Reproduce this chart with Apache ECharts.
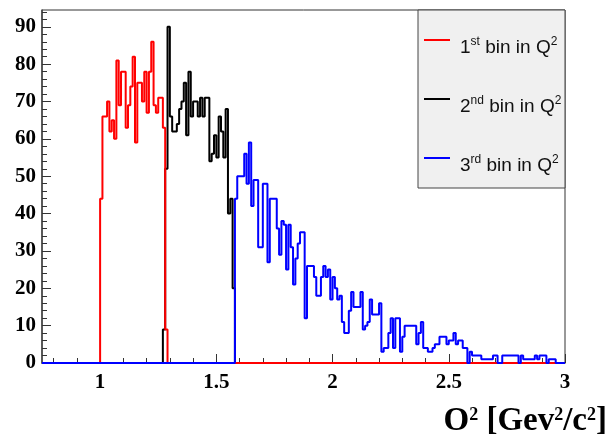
<!DOCTYPE html>
<html><head><meta charset="utf-8">
<script src="https://cdn.jsdelivr.net/npm/echarts@6/dist/echarts.min.js"></script>
<style>html,body{margin:0;padding:0;background:#fff}#c{width:611px;height:435px}</style>
</head><body><div id="c"></div>
<script>
// ---- data ----
const xMin = 0.75, xMax = 3.0, binWidth = 0.01;
const yMin = 0, yMax = 94.5;
const xTickLabels = [1, 1.5, 2, 2.5, 3];
const yTickLabels = [0, 10, 20, 30, 40, 50, 60, 70, 80, 90];
const seriesNames = ['1st bin in Q2', '2nd bin in Q2', '3rd bin in Q2'];

const redStart = 1.00;
const redCounts = [44, 66, 66, 70, 62, 65, 60, 81, 69, 78, 78, 63, 69, 74, 82, 59, 75, 75, 70, 78, 67, 78, 86, 69, 67, 71, 71, 63, 9];

const blackStart = 1.27;
const blackCounts = [9, 52, 90, 66, 62, 62, 64, 68, 70, 75, 61, 78, 66, 70, 70, 66, 71, 66, 71, 71, 54, 56, 61, 55, 66, 62, 55, 68, 40, 44, 20];

const blueStart = 1.58;
const blueCounts = [44, 50, 50, 50, 56, 48, 59, 42, 49, 49, 31, 31, 48, 48, 27, 44, 44, 44, 36, 29,
  38, 37, 25, 37, 31, 21, 28, 32, 35, 35, 12, 26, 26, 26, 23, 18, 18, 23, 26, 23,
  25, 17, 23, 20, 17, 18, 11, 8, 8, 14, 19, 15, 15, 15, 19, 9, 10, 11, 17, 13,
  13, 13, 16, 3, 4, 4, 8, 12, 4, 12, 12, 3, 7, 10, 10, 10, 10, 10, 5, 8,
  11, 4, 4, 3, 3, 4, 5, 5, 7, 7, 7, 5, 6, 6, 8, 5, 6, 6, 4, 4,
  0, 3, 2, 2, 2, 2, 1, 1, 1, 1, 1, 2, 2, 0, 0, 2, 2, 2, 2, 2,
  2, 2, 0, 2, 1, 1, 1, 1, 1, 2, 1, 2, 2, 2, 0, 1, 1, 1, 0, 0,
  0, 0];

// ---- helpers ----
function buildHist(start, counts) {
  const nBins = Math.round((xMax - xMin) / binWidth);
  const first = Math.round((start - xMin) / binWidth);
  const pts = [];
  for (let i = 0; i < nBins; i++) {
    const k = i - first;
    const v = (k >= 0 && k < counts.length) ? counts[k] : 0;
    pts.push([+(xMin + i * binWidth).toFixed(2), v]);
  }
  pts.push([xMax, pts[pts.length - 1][1]]);
  return pts;
}
const xMinor = [];
for (let i = 8; i <= 30; i++) { if (i % 5 !== 0) xMinor.push(i / 10); }
const yMinor = [];
for (let v = 2; v < yMax; v += 2) { if (v % 10 !== 0) yMinor.push(v); }

const legendRich = {
  '1st bin in Q2': '{n|1}{s|st}{n| bin in Q}{s|2}',
  '2nd bin in Q2': '{n|2}{s|nd}{n| bin in Q}{s|2}',
  '3rd bin in Q2': '{n|3}{s|rd}{n| bin in Q}{s|2}'
};

const serifBold = { fontFamily: 'Liberation Serif', fontWeight: 'bold', color: '#000' };

const chart = echarts.init(document.getElementById('c'), null, { renderer: 'canvas' });
chart.setOption({
  animation: false,
  backgroundColor: '#fff',
  grid: { left: 42, right: 46, top: 10, bottom: 72, outerBoundsMode: 'none', containLabel: false,
          show: true, borderColor: '#333', borderWidth: 1, backgroundColor: 'transparent' },
  graphic: [{
    type: 'rect', z: 3,
    shape: { x: 418, y: 10, width: 147, height: 178 },
    style: { fill: '#f0f0f0', stroke: '#444', lineWidth: 1 }
  }],
  legend: {
    orient: 'vertical', left: 424, top: 36, padding: 0, itemGap: 38,
    icon: 'rect', itemWidth: 26, itemHeight: 2,
    data: [seriesNames[0], seriesNames[1], seriesNames[2]],
    formatter: n => legendRich[n],
    textStyle: {
      padding: [14, 0, 0, 5],
      rich: {
        n: { fontFamily: 'Liberation Sans', fontSize: 19, color: '#111', lineHeight: 20, verticalAlign: 'bottom' },
        s: { fontFamily: 'Liberation Sans', fontSize: 12, color: '#111', lineHeight: 12, verticalAlign: 'bottom', padding: [0, 0, 9, 0] }
      }
    }
  },
  xAxis: [{
    type: 'value', min: xMin, max: xMax, position: 'bottom',
    axisLine: { show: true, onZero: false, lineStyle: { color: '#333', width: 1 } },
    axisTick: { show: true, inside: true, length: 9, customValues: xTickLabels, lineStyle: { color: '#333' } },
    axisLabel: { customValues: xTickLabels, margin: 9, fontSize: 21, ...serifBold, formatter: v => String(v) },
    splitLine: { show: false },
    name: '{b|O}{s|2}{b| [Gev}{s|2}{b|/c}{s|2}{b|]}',
    nameLocation: 'end', nameGap: 42,
    nameTextStyle: {
      align: 'right', verticalAlign: 'top', padding: [45, 0, 0, 0],
      rich: {
        b: { ...serifBold, fontSize: 33, lineHeight: 30, verticalAlign: 'bottom' },
        s: { ...serifBold, fontSize: 18, lineHeight: 18, verticalAlign: 'bottom', padding: [0, 0, 14, 0] }
      }
    }
  }, {
    type: 'value', min: xMin, max: xMax, position: 'bottom', offset: 0,
    axisLine: { show: false },
    axisTick: { show: true, inside: true, length: 5, customValues: xMinor, lineStyle: { color: '#333' } },
    axisLabel: { show: false },
    splitLine: { show: false }
  }],
  yAxis: [{
    type: 'value', min: yMin, max: yMax, position: 'left',
    axisLine: { show: true, onZero: false, lineStyle: { color: '#444', width: 1.5 } },
    axisTick: { show: true, inside: true, length: 9, customValues: yTickLabels, lineStyle: { color: '#333' } },
    axisLabel: { customValues: yTickLabels, margin: 6, fontSize: 21, ...serifBold },
    splitLine: { show: false }
  }, {
    type: 'value', min: yMin, max: yMax, position: 'left', offset: 0,
    axisLine: { show: false },
    axisTick: { show: true, inside: true, length: 5, customValues: yMinor, lineStyle: { color: '#333' } },
    axisLabel: { show: false },
    splitLine: { show: false }
  }],
  series: [
    { name: seriesNames[1], type: 'line', step: 'end', symbol: 'none', data: buildHist(blackStart, blackCounts),
      lineStyle: { color: '#000000', width: 2 }, itemStyle: { color: '#000000' }, xAxisIndex: 0, yAxisIndex: 0 },
    { name: seriesNames[0], type: 'line', step: 'end', symbol: 'none', data: buildHist(redStart, redCounts),
      lineStyle: { color: '#ff0000', width: 2 }, itemStyle: { color: '#ff0000' }, xAxisIndex: 0, yAxisIndex: 0 },
    { name: seriesNames[2], type: 'line', step: 'end', symbol: 'none', data: buildHist(blueStart, blueCounts),
      lineStyle: { color: '#0000ff', width: 2 }, itemStyle: { color: '#0000ff' }, xAxisIndex: 0, yAxisIndex: 0 }
  ]
});
</script></body></html>
